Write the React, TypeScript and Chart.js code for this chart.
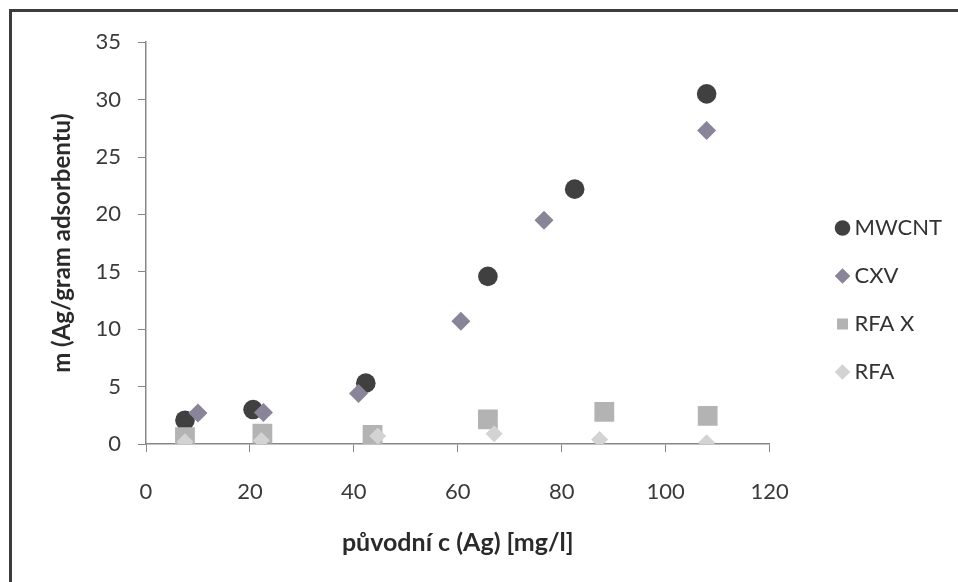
import React, { useEffect, useRef } from "react";
import { Chart, registerables } from "chart.js";
Chart.register(...registerables);

const seriesNames = ["MWCNT", "CXV", "RFA X", "RFA"];
const mwcntX = [7.5, 20.6, 42.3, 65.8, 82.5, 107.9];
const mwcntY = [2.07, 3.0, 5.3, 14.6, 22.2, 30.5];
const cxvX = [10.0, 22.6, 40.9, 60.6, 76.6, 107.9];
const cxvY = [2.7, 2.75, 4.4, 10.7, 19.5, 27.3];
const rfaxX = [7.5, 22.4, 43.6, 65.8, 88.2, 108.1];
const rfaxY = [0.6, 0.9, 0.8, 2.15, 2.8, 2.45];
const rfaX = [7.5, 22.2, 44.6, 67.0, 87.3, 107.9];
const rfaY = [0.2, 0.3, 0.7, 0.9, 0.4, 0.1];
const xMin = 0, xMax = 120, xStep = 20;
const yMin = 0, yMax = 35, yStep = 5;
const xTitle = "původní c (Ag) [mg/l]";
const yTitle = "m (Ag/gram adsorbentu)";

const colors = ["#404040", "#8a8499", "#b3b3b3", "#d3d3d3"];
const styles = ["circle", "rectRot", "rect", "rectRot"];
const radii = [9.8, 9.5, 14, 8.5];

const toPts = (xs: number[], ys: number[]) => xs.map((x, i) => ({ x, y: ys[i] }));

export default function App() {
  const ref = useRef<HTMLCanvasElement>(null);
  useEffect(() => {
    if (!ref.current) return;
    const seriesX = [mwcntX, cxvX, rfaxX, rfaX];
    const seriesY = [mwcntY, cxvY, rfaxY, rfaY];
    const font = "Lato";
    const axisColor = "#878787";
    const chart = new Chart(ref.current, {
      type: "scatter",
      data: {
        datasets: seriesNames.map((name, i) => ({
          label: name,
          data: toPts(seriesX[i], seriesY[i]),
          backgroundColor: colors[i],
          borderColor: colors[i],
          pointBackgroundColor: colors[i],
          pointBorderColor: colors[i],
          pointBorderWidth: 0,
          borderWidth: 0,
          pointStyle: styles[i] as any,
          pointRadius: radii[i],
          pointHoverRadius: radii[i],
          order: seriesNames.length - i,
        })),
      },
      options: {
        responsive: false,
        animation: false,
        devicePixelRatio: 1,
        layout: { padding: { left: 0, top: 6, right: 6, bottom: 0 } },
        plugins: {
          tooltip: { enabled: false },
          legend: {
            position: "right",
            fullSize: true,
            align: "center",
            labels: {
              sort: (a: any, b: any) => a.datasetIndex - b.datasetIndex,
              usePointStyle: true,
              boxWidth: 2,
              boxHeight: 11,
              padding: 26,
              color: "#333333",
              font: { family: font, size: 22 },
            },
          },
        },
        scales: {
          x: {
            type: "linear",
            position: "bottom",
            min: xMin,
            max: xMax,
            ticks: { stepSize: xStep, color: "#3a3a3a", font: { family: font, size: 22 }, padding: 27 },
            grid: { drawOnChartArea: false, drawTicks: true, tickLength: 8, color: axisColor, lineWidth: 1 },
            border: { display: true, color: axisColor, width: 1.5 },
            title: {
              display: true,
              text: xTitle,
              color: "#2a2a2a",
              font: { family: font, size: 25, weight: "bold" },
              padding: { top: 0, bottom: 24 },
            },
            afterFit: (s: any) => { s.height = 138; },
          },
          xT: {
            type: "linear",
            position: "top",
            display: true,
            grid: { display: false, drawTicks: false },
            ticks: { display: false },
            border: { display: false },
            afterFit: (s: any) => { s.height = 22; },
          },
          y: {
            type: "linear",
            position: "left",
            min: yMin,
            max: yMax,
            ticks: { stepSize: yStep, color: "#3a3a3a", font: { family: font, size: 22 }, padding: 17 },
            grid: { drawOnChartArea: false, drawTicks: true, tickLength: 8, color: axisColor, lineWidth: 1 },
            border: { display: true, color: axisColor, width: 1.5 },
            title: {
              display: true,
              text: yTitle,
              color: "#2a2a2a",
              font: { family: font, size: 24, weight: "bold" },
              padding: { top: 36, bottom: 0 },
            },
            afterFit: (s: any) => { s.width = 134; },
          },
          yR: {
            type: "linear",
            position: "right",
            display: true,
            grid: { display: false, drawTicks: false },
            ticks: { display: false },
            border: { display: false },
            afterFit: (s: any) => { s.width = 46; },
          },
        },
      } as any,
    });
    return () => chart.destroy();
  }, []);
  return (
    <div
      style={{
        position: "fixed",
        left: 9,
        top: 9,
        width: 949,
        height: 573,
        boxSizing: "border-box",
        borderLeft: "3px solid #3c3c3c",
        borderTop: "3px solid #3c3c3c",
        background: "#fff",
      }}
    >
      <canvas ref={ref} width={946} height={570} style={{ display: "block", width: 946, height: 570 }} />
    </div>
  );
}
